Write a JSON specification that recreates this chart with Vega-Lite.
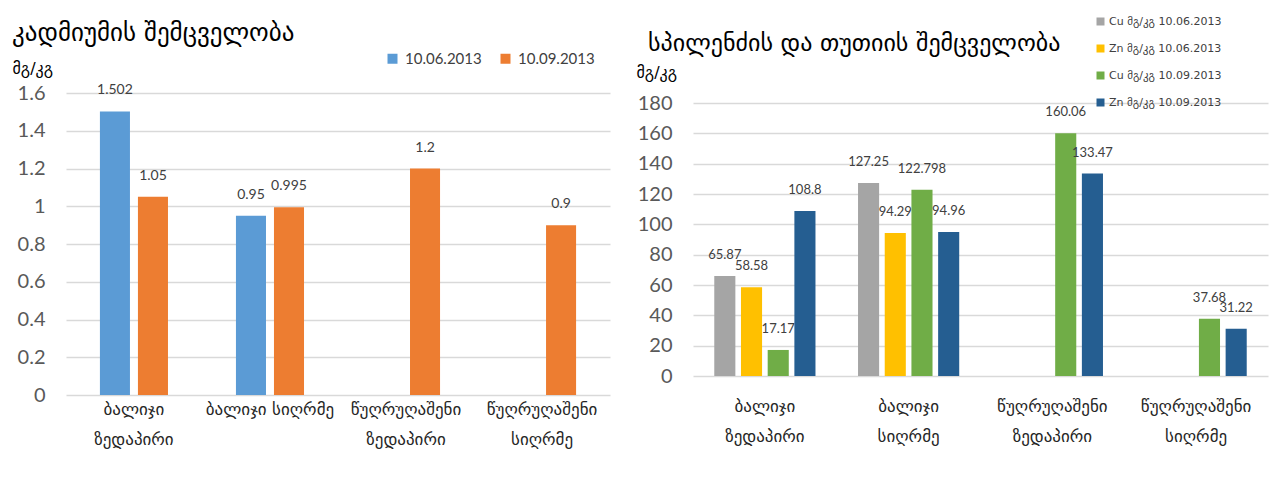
{
  "$schema": "https://vega.github.io/schema/vega-lite/v6.json",
  "background": "white",
  "padding": {"left": 12, "top": 16, "right": 5, "bottom": 5},
  "bounds": "flush",
  "spacing": 83,
  "resolve": {"scale": {"color": "independent", "xOffset": "independent", "x": "independent", "y": "independent"}, "legend": {"color": "independent"}},
  "config": {
    "view": {"stroke": null},
    "axis": {"gridColor": "#D9D9D9", "gridWidth": 1.5, "domain": false, "ticks": false},
    "text": {"font": "Lato"}
  },
  "datasets": {
    "cd": [
      {"site": "ბალიჯი ზედაპირი", "date": "10.06.2013", "value": 1.502},
      {"site": "ბალიჯი ზედაპირი", "date": "10.09.2013", "value": 1.05},
      {"site": "ბალიჯი სიღრმე", "date": "10.06.2013", "value": 0.95},
      {"site": "ბალიჯი სიღრმე", "date": "10.09.2013", "value": 0.995},
      {"site": "წუღრუღაშენი ზედაპირი", "date": "10.09.2013", "value": 1.2},
      {"site": "წუღრუღაშენი სიღრმე", "date": "10.09.2013", "value": 0.9}
    ],
    "cuzn": [
      {"site": "ბალიჯი ზედაპირი", "series": "Cu მგ/კგ 10.06.2013", "value": 65.87},
      {"site": "ბალიჯი ზედაპირი", "series": "Zn მგ/კგ 10.06.2013", "value": 58.58},
      {"site": "ბალიჯი ზედაპირი", "series": "Cu მგ/კგ 10.09.2013", "value": 17.17},
      {"site": "ბალიჯი ზედაპირი", "series": "Zn მგ/კგ 10.09.2013", "value": 108.8},
      {"site": "ბალიჯი სიღრმე", "series": "Cu მგ/კგ 10.06.2013", "value": 127.25},
      {"site": "ბალიჯი სიღრმე", "series": "Zn მგ/კგ 10.06.2013", "value": 94.29},
      {"site": "ბალიჯი სიღრმე", "series": "Cu მგ/კგ 10.09.2013", "value": 122.798},
      {"site": "ბალიჯი სიღრმე", "series": "Zn მგ/კგ 10.09.2013", "value": 94.96},
      {"site": "წუღრუღაშენი ზედაპირი", "series": "Cu მგ/კგ 10.09.2013", "value": 160.06},
      {"site": "წუღრუღაშენი ზედაპირი", "series": "Zn მგ/კგ 10.09.2013", "value": 133.47},
      {"site": "წუღრუღაშენი სიღრმე", "series": "Cu მგ/კგ 10.09.2013", "value": 37.68},
      {"site": "წუღრუღაშენი სიღრმე", "series": "Zn მგ/კგ 10.09.2013", "value": 31.22}
    ]
  },
  "hconcat": [
    {
      "width": 544,
      "height": 302,
      "data": {"name": "cd"},
      "title": {"text": "კადმიუმის შემცველობა", "anchor": "start", "frame": "group", "dx": -54, "offset": 5, "fontSize": 25, "font": "DejaVu Sans", "fontWeight": "normal", "color": "#000000"},
      "encoding": {
        "x": {
          "field": "site", "type": "nominal",
          "sort": ["ბალიჯი ზედაპირი", "ბალიჯი სიღრმე", "წუღრუღაშენი ზედაპირი", "წუღრუღაშენი სიღრმე"],
          "scale": {"paddingInner": 0.441, "paddingOuter": 0.22},
          "axis": {"title": null, "labelAngle": 0, "labelFont": "DejaVu Sans", "labelFontSize": 17, "labelColor": "#262626", "labelBaseline": "top", "labelPadding": 6, "labelLineHeight": 30, "labelLimit": 0,
                   "labelExpr": "datum.label == 'ბალიჯი სიღრმე' ? datum.label : split(datum.label, ' ')"}
        },
        "xOffset": {"field": "date", "type": "nominal", "sort": ["10.06.2013", "10.09.2013"], "scale": {"paddingInner": 0.21, "paddingOuter": 0.105}},
        "y": {
          "field": "value", "type": "quantitative",
          "scale": {"domain": [0, 1.6]},
          "axis": {"values": [0, 0.2, 0.4, 0.6, 0.8, 1, 1.2, 1.4, 1.6], "format": "~g", "labelFont": "Lato", "labelFontSize": 20, "labelColor": "#595959", "labelPadding": 21,
                   "title": "მგ/კგ", "titleFont": "DejaVu Sans", "titleFontSize": 16, "titleFontWeight": "normal", "titleColor": "#000000", "titleAngle": 0, "titleAlign": "left", "titleBaseline": "middle", "titleX": -54, "titleY": -25}
        }
      },
      "layer": [
        {
          "mark": {"type": "bar"},
          "encoding": {
            "color": {
              "field": "date", "type": "nominal",
              "scale": {"domain": ["10.06.2013", "10.09.2013"], "range": ["#5B9BD5", "#ED7D31"]},
              "legend": {"title": null, "orient": "none", "legendX": 319, "legendY": -42, "direction": "horizontal", "symbolType": "square", "symbolSize": 100, "symbolStrokeWidth": 0, "labelFont": "Lato", "labelFontSize": 15, "labelColor": "#404040", "columnPadding": 16, "padding": 0, "labelOffset": 5}
            }
          }
        },
        {
          "mark": {"type": "text", "baseline": "middle", "dy": -21, "fontSize": 14, "color": "#404040"},
          "encoding": {"text": {"field": "value", "type": "quantitative"}}
        }
      ]
    },
    {
      "width": 575,
      "height": 302,
      "data": {"name": "cuzn"},
      "title": {"text": "სპილენძის და თუთიის შემცველობა", "anchor": "start", "frame": "group", "dx": -45, "offset": -40, "fontSize": 24, "font": "DejaVu Sans", "fontWeight": "normal", "color": "#000000"},
      "encoding": {
        "x": {
          "field": "site", "type": "nominal",
          "sort": ["ბალიჯი ზედაპირი", "ბალიჯი სიღრმე", "წუღრუღაშენი ზედაპირი", "წუღრუღაშენი სიღრმე"],
          "scale": {"paddingInner": 0.257, "paddingOuter": 0.1285},
          "axis": {"title": null, "labelAngle": 0, "labelFont": "DejaVu Sans", "labelFontSize": 17, "labelColor": "#262626", "labelBaseline": "top", "labelPadding": 3, "labelLineHeight": 30, "labelLimit": 0,
                   "labelExpr": "split(datum.label, ' ')"}
        },
        "xOffset": {"field": "series", "type": "nominal", "sort": ["Cu მგ/კგ 10.06.2013", "Zn მგ/კგ 10.06.2013", "Cu მგ/კგ 10.09.2013", "Zn მგ/კგ 10.09.2013"], "scale": {"paddingInner": 0.21, "paddingOuter": 0.105}},
        "y": {
          "field": "value", "type": "quantitative",
          "scale": {"domain": [0, 180], "range": [283, 10]},
          "axis": {"values": [0, 20, 40, 60, 80, 100, 120, 140, 160, 180], "labelFont": "Lato", "labelFontSize": 20, "labelColor": "#595959", "labelPadding": 21,
                   "title": "მგ/კგ", "titleFont": "DejaVu Sans", "titleFontSize": 16, "titleFontWeight": "normal", "titleColor": "#000000", "titleAngle": 0, "titleAlign": "left", "titleBaseline": "middle", "titleX": -57, "titleY": -21}
        }
      },
      "layer": [
        {
          "mark": {"type": "bar"},
          "encoding": {
            "color": {
              "field": "series", "type": "nominal",
              "scale": {"domain": ["Cu მგ/კგ 10.06.2013", "Zn მგ/კგ 10.06.2013", "Cu მგ/კგ 10.09.2013", "Zn მგ/კგ 10.09.2013"], "range": ["#A5A5A5", "#FFC000", "#70AD47", "#255E91"]},
              "legend": {"title": null, "orient": "none", "legendX": 402, "legendY": -77, "direction": "vertical", "symbolType": "square", "symbolSize": 64, "symbolStrokeWidth": 0, "labelFont": "DejaVu Sans", "labelFontSize": 11, "labelColor": "#404040", "rowPadding": 15, "padding": 0, "labelOffset": 3}
            }
          }
        },
        {
          "mark": {"type": "text", "baseline": "middle", "dy": -21, "fontSize": 13, "color": "#404040"},
          "encoding": {"text": {"field": "value", "type": "quantitative"}}
        }
      ]
    }
  ]
}
